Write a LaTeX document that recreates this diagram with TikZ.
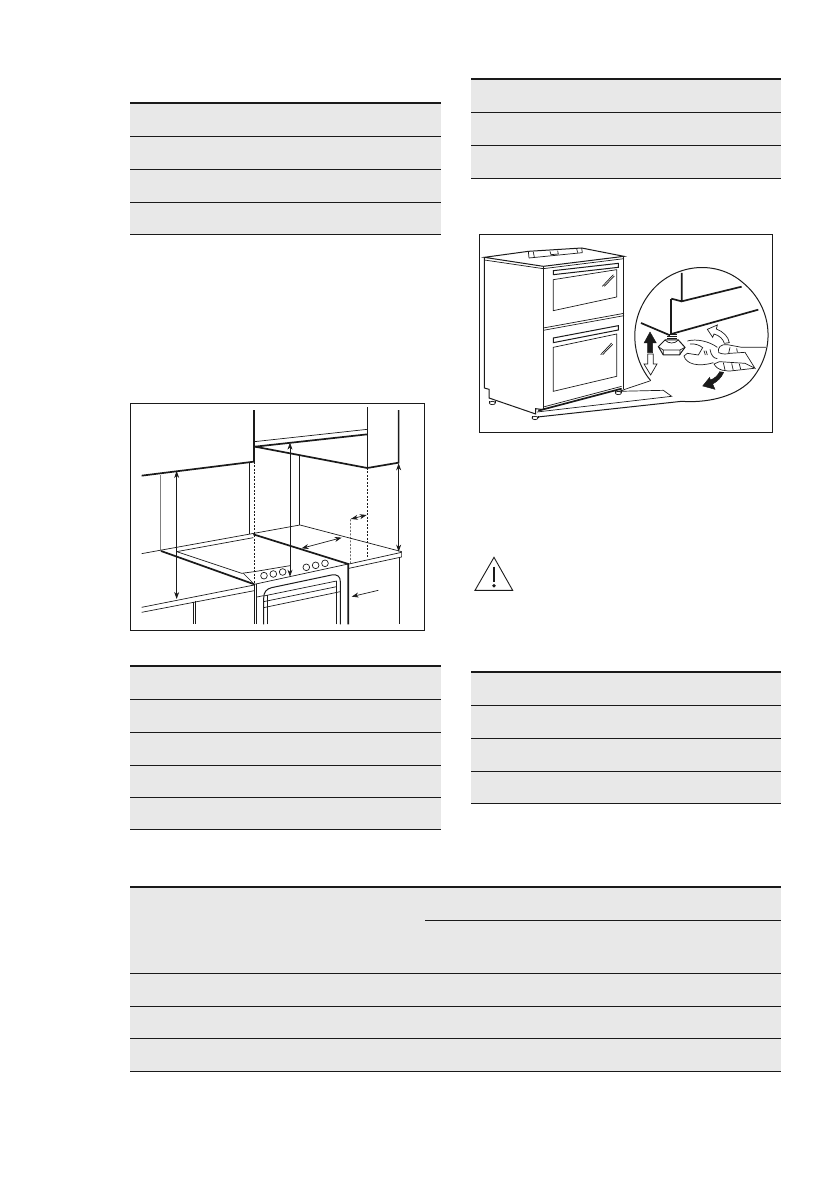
\documentclass[tikz,border=0pt]{standalone}
\usetikzlibrary{arrows.meta}
\definecolor{band}{HTML}{E8E8E8}
\definecolor{ink}{HTML}{1A1A1A}
\tikzset{
  rowline/.style={draw=ink,line width=0.8pt},
  headline/.style={draw=ink,line width=1.6pt},
  thin/.style={draw=ink,line width=0.7pt},
  med/.style={draw=ink,line width=1pt},
  heavy/.style={draw=ink,line width=1.7pt},
  dim/.style={draw=ink,line width=0.7pt,{Stealth[length=7pt,width=5pt]}-{Stealth[length=7pt,width=5pt]}},
  dashline/.style={draw=ink,line width=0.6pt,dash pattern=on 2pt off 1.5pt},
  framebox/.style={draw=ink,line width=0.8pt},
  zoomA/.style={shift={(125,395)},x=0.3333pt,y=-0.3333pt},
  zoomB/.style={shift={(475,228)},x=0.3333pt,y=-0.3333pt},
  zoomC/.style={shift={(460,550)},x=0.3333pt,y=-0.3333pt},
  zoomD/.style={shift={(630,260)},x=0.3333pt,y=-0.3333pt}
}
\newcommand{\gridtable}[4]{% x0,x1,top,following rules,bottom
  \fill[band] (#1,#3) rectangle (#2,#4);
  \draw[headline] (#1,#3) -- (#2,#3);
}
\newcommand{\rules}[3]{\foreach \yy in {#3}{\draw[rowline] (#1,\yy) -- (#2,\yy);}}
\begin{document}
\begin{tikzpicture}[x=1pt,y=-1pt]
\useasboundingbox (0,0) rectangle (839,1191);
\gridtable{130}{441}{103}{234}\rules{130}{441}{136,169,202,234}
\gridtable{471}{781}{79}{178}\rules{471}{781}{112,145,178}
\gridtable{130}{441}{666}{829}\rules{130}{441}{699,732,765,797,829}
\gridtable{471}{781}{672}{803}\rules{471}{781}{705,738,771,803}
\gridtable{130}{781}{887}{1071}\rules{130}{781}{973,1006,1038,1071}
\draw[rowline] (425,920) -- (781,920);

% built-in hob diagram
\begin{scope}[zoomA]
\draw[framebox] (17,25) rectangle (898,706);
\draw[heavy] (50,242) -- (387,200) -- (387,45);
\draw[heavy] (390,155) -- (727,219) -- (821,203) -- (821,45);
\draw[thin] (727,37) -- (727,219);
\draw[thin] (388,140) -- (727,103);
\draw[heavy] (390,155) -- (727,118);
\draw[thin] (372,205) -- (372,418);
\draw[draw=gray,line width=0.8pt] (105,240) -- (105,466);
\draw[thin] (523,180) -- (523,390);
\draw[dashline] (388,200) -- (388,565);
\draw[dashline] (727,219) -- (727,490);
\draw[dashline] (676,505) -- (676,372) -- (695,368);
\draw[dim] (155,228) -- (155,612);
\draw[dim] (495,143) -- (495,545);
\draw[dim] (821,205) -- (821,470);
\draw[dim] (530,460) -- (650,428);
\draw[dim] (678,372) -- (725,360);
\draw[thin,-{Stealth[length=7pt,width=5pt]}] (760,586) -- (680,605);
% worktop
\draw[thin] (50,476) -- (105,466) -- (525,390) -- (830,470) -- (830,486) -- (672,520);
\draw[thin] (672,507) -- (830,472);
\draw[heavy] (108,468) -- (388,568);
\draw[heavy] (385,418) -- (670,507) -- (670,688);
\draw[thin] (155,470) -- (385,428);
\draw[thin] (155,470) -- (350,535) -- (388,530);
\draw[thin] (355,535) -- (388,568) -- (670,507);
\draw[thin] (388,530) -- (495,512);
\foreach \kx/\ky in {417/542,445/537,473/531,544/517,572/511,600/505}
  \draw[thin] (\kx,\ky) circle (10);
% oven door
\draw[thin] (50,637) -- (388,570);
\draw[thin] (50,652) -- (388,587);
\draw[med] (205,620) -- (205,688) (213,618) -- (213,688);
\draw[med] (388,568) -- (388,688) (395,568) -- (395,688);
\draw[thin] (396,606) -- (416,602);
\draw[med] (416,688) -- (416,610) .. controls (416,590) and (425,582) .. (440,578) -- (620,540) .. controls (638,537) and (646,545) .. (646,560) -- (646,688);
\draw[thin] (428,688) -- (428,600);
\draw[med] (635,688) -- (635,558);
\draw[thin] (416,603) -- (635,558) (416,620) -- (635,575) (416,638) -- (646,590);
\draw[thin] (822,486) -- (822,688);
\end{scope}

% oven levelling diagram
\begin{scope}[zoomB]
\draw[framebox] (13,20) rectangle (893,612);
% body
\draw[med] (28,88) -- (160,70) -- (320,60) -- (447,85) -- (205,115) -- cycle;
\draw[thin] (28,96) -- (205,122) -- (447,92);
\draw[thin] (160,70) -- (162,90) (320,60) -- (322,74) (162,90) -- (322,74);
\draw[thin] (175,72) -- (178,88) (225,70) -- (228,80) -- (250,78) -- (248,68) (305,62) -- (308,74);
\draw[med] (28,88) -- (28,480) -- (42,484) -- (42,510) -- (182,558) -- (182,542) -- (205,545);
\draw[med] (205,115) -- (205,545);
\draw[med] (447,85) -- (447,482);
\draw[thin] (205,300) -- (447,256);
\draw[thin] (205,307) -- (447,263);
% handles
\draw[med] (235,128) -- (430,106) -- (430,118) -- (235,140) -- cycle;
\draw[med] (235,330) -- (430,293) -- (430,306) -- (235,344) -- cycle;
% windows
\draw[thin] (235,155) -- (425,125) -- (425,207) -- (235,248) -- cycle;
\draw[thin] (235,358) -- (425,318) -- (425,445) -- (235,490) -- cycle;
\draw[thin] (382,175) -- (415,140) (388,175) -- (418,144);
\draw[thin] (377,380) -- (410,345) (383,380) -- (413,349);
% base and feet
\draw[heavy] (190,548) -- (440,482);
\draw[thin] (205,537) -- (440,475);
\foreach \fx/\fy in {52/525,180/570,430/495}{
  \draw[thin,fill=white] (\fx,\fy) ellipse (9 and 5);
  \draw[thin] (\fx-9,\fy-5) -- (\fx-9,\fy) (\fx+9,\fy-5) -- (\fx+9,\fy);
}
% callout
\draw[med] (527,458) .. controls (470,390) and (458,280) .. (525,195) .. controls (590,110) and (720,90) .. (805,165) .. controls (895,240) and (905,370) .. (825,460) .. controls (775,510) and (690,525) .. (620,520) -- (188,567);
\draw[thin] (527,458) -- (432,490) -- (565,487) -- (590,505) -- (186,552);
% enlarged corner
\draw[heavy] (620,135) -- (620,220) -- (800,176);
\draw[heavy] (589,212) -- (620,220);
\draw[heavy] (589,212) -- (589,318);
\draw[heavy] (589,318) -- (850,245);
\draw[heavy] (498,285) -- (585,322);
\end{scope}

\begin{scope}[zoomD]
% thread and nut
\foreach \ty in {224,230,236}
  \draw[med] (112,\ty) -- (140,\ty);
\draw[med,fill=white] (85,260) -- (105,240) -- (145,240) -- (165,262) -- (148,285) -- (100,285) -- cycle;
\draw[thin] (85,260) -- (100,270) -- (150,270) -- (165,262) (100,270) -- (100,285) (150,270) -- (150,285);
\draw[thin] (105,240) .. controls (115,252) and (135,252) .. (145,240);
% height arrows
\draw[draw=ink,fill=ink] (60,216) -- (42,249) -- (53,249) -- (53,278) -- (68,278) -- (68,249) -- (79,249) -- cycle;
\draw[thin,fill=white] (62,345) -- (42,312) -- (53,312) -- (53,282) -- (70,282) -- (70,312) -- (81,312) -- cycle;
% spanner
\draw[thin] (172,243) .. controls (200,235) and (240,245) .. (262,262);
\draw[thin] (180,252) .. controls (195,250) and (210,256) .. (218,263) -- (205,285) -- (172,280) -- (162,288) .. controls (168,312) and (205,322) .. (250,308);
\draw[thin] (240,268) .. controls (243,285) and (250,295) .. (262,296);
\draw[thin] (228,272) -- (232,285) (222,272) -- (226,285);
% hand
\draw[thin] (292,254) .. controls (272,252) and (262,262) .. (266,278) .. controls (278,284) and (292,282) .. (300,280) -- (345,277) (292,254) -- (335,262) -- (408,262);
\draw[thin] (300,262) -- (296,280) (320,265) -- (322,276);
\draw[thin] (345,277) -- (375,325) -- (345,310) -- (268,305) -- (252,312) .. controls (262,332) and (290,335) .. (310,332) -- (372,325);
\draw[thin] (280,308) -- (285,330) (305,310) -- (310,332) (328,312) -- (332,328);
% turning arrows
\draw[thin,fill=white] (232,208) -- (262,195) -- (259,207) .. controls (280,215) and (295,230) .. (298,248) -- (283,250) .. controls (280,238) and (268,226) .. (252,222) -- (248,232) -- cycle;
\draw[draw=ink,fill=ink] (218,378) -- (255,388) -- (248,372) .. controls (262,365) and (275,352) .. (281,337) -- (269,335) .. controls (263,348) and (252,356) .. (241,360) -- (239,352) -- cycle;
\end{scope}

% warning triangle
\begin{scope}[zoomC]
\draw[draw=ink,line width=0.9pt,line join=miter] (45,121) -- (102,22) -- (158,121) -- cycle;
\draw[draw=ink,line width=1.5pt] (102,50) -- (102,95);
\fill[ink] (102,107) circle (5.5);
\end{scope}
\end{tikzpicture}
\end{document}
